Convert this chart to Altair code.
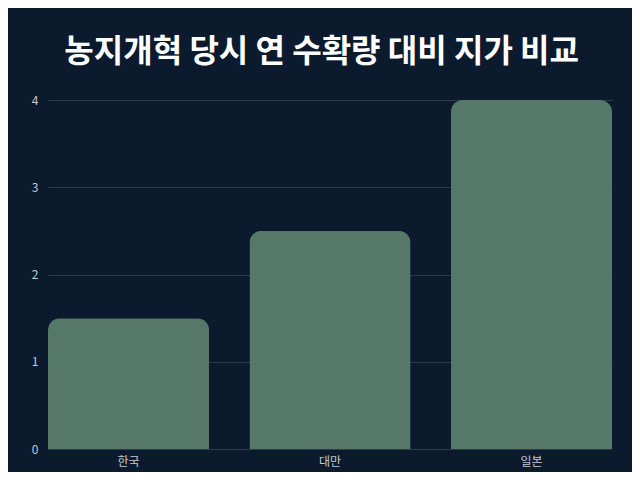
import altair as alt
import pandas as pd

countries = ["한국", "대만", "일본"]
ratios = [1.5, 2.5, 4.0]
y_ticks = [0, 1, 2, 3, 4]
title_text = "농지개혁 당시 연 수확량 대비 지가 비교"

df = pd.DataFrame({"country": countries, "ratio": ratios})

FONT = "Noto Sans CJK KR"

chart = (
    alt.Chart(df)
    .mark_bar(color="#557869", cornerRadiusTopLeft=12, cornerRadiusTopRight=12)
    .encode(
        x=alt.X(
            "country:N",
            sort=countries,
            scale=alt.Scale(paddingInner=0.2, paddingOuter=0),
            axis=alt.Axis(
                title=None,
                labelAngle=0,
                labelColor="#c3cad3",
                labelFont=FONT,
                labelFontSize=12,
                labelPadding=7,
                ticks=False,
                domain=False,
                grid=False,
            ),
        ),
        y=alt.Y(
            "ratio:Q",
            scale=alt.Scale(domain=[0, 4], nice=False),
            axis=alt.Axis(
                title=None,
                values=y_ticks,
                labelColor="#c3cad3",
                labelFont=FONT,
                labelFontSize=12,
                labelPadding=10,
                ticks=False,
                domain=False,
                gridColor="#2b3b4f",
                gridWidth=1,
            ),
        ),
    )
    .properties(
        width=564,
        height=349,
        autosize=alt.AutoSizeParams(type="none"),
        padding={"left": 40, "top": 92, "right": 20, "bottom": 23},
        background="#0c1a2e",
        title=alt.TitleParams(
            title_text,
            font=FONT,
            fontSize=32,
            fontWeight="bold",
            color="#ffffff",
            anchor="middle",
            frame="bounds",
            baseline="alphabetic",
            offset=0,
        ),
    )
    .configure_view(stroke=None)
)

chart.save("out.html", embed_options={"renderer": "svg", "actions": False})
